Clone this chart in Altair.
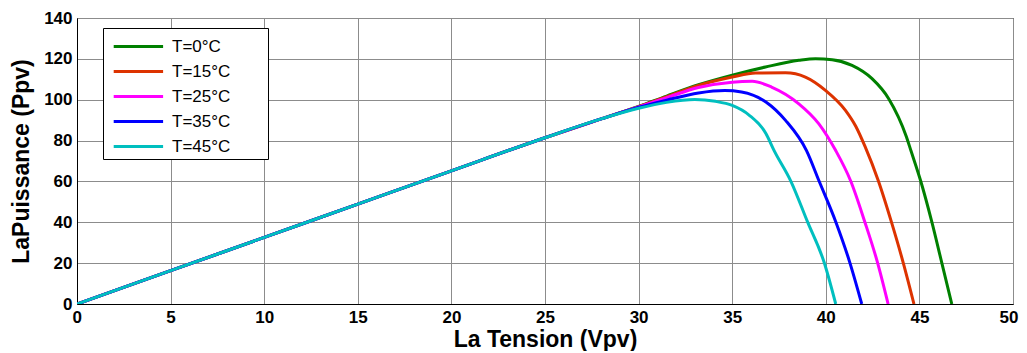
import altair as alt
import pandas as pd

series = ["T=0°C", "T=15°C", "T=25°C", "T=35°C", "T=45°C"]
colors = ["#008000", "#dd3300", "#ff00ff", "#0000ff", "#00bfbf"]

common_v = [0, 5, 10, 15, 20, 25, 28]
common_p = [0, 16.3, 32.6, 48.9, 65.2, 81.4, 90.6]

v_t0 = [30, 31.5, 33.2, 35, 36.78, 38.56, 39.45, 40.34, 41.4, 42.47, 43.36, 44.3, 44.55, 45.07, 45.66, 46.19, 46.73]
p_t0 = [96.7, 101.8, 107.3, 112, 116, 119.3, 120.1, 119.6, 116.8, 110.3, 100.5, 82, 75, 60.2, 40.3, 20.4, 0]

v_t15 = [30, 31.5, 33.2, 35, 36.25, 37.85, 38.91, 39.98, 41.05, 41.6, 42.1, 42.81, 43.5, 44.13, 44.71]
p_t15 = [96.6, 101.5, 107, 111.1, 113.1, 113.2, 111.1, 104.6, 94.8, 87, 77, 60.2, 40.3, 20.4, 0]

v_t25 = [30, 31.5, 33.2, 35, 36.07, 37.1, 38.56, 39.63, 40.53, 41.33, 42.08, 42.76, 43.33]
p_t25 = [96.5, 101, 106, 108.6, 109, 106.2, 98, 88.2, 75.1, 60.2, 40.3, 20.4, 0]

v_t35 = [30, 31.5, 33.2, 34.6, 35.5, 36.8, 37.85, 38.97, 39.64, 40.53, 41.28, 41.92]
p_t35 = [96.3, 99.8, 103.3, 104.5, 103.8, 98.9, 89.9, 75.1, 60.2, 40.3, 20.4, 0]

v_t45 = [30, 31.5, 33, 34.1, 35, 35.9, 36.8, 37.24, 38.13, 39.02, 39.91, 40.53]
p_t45 = [95.8, 98.7, 100.1, 99.2, 97.2, 92.5, 83.5, 75.1, 60.2, 40.3, 20.4, 0]

x_ticks = list(range(0, 51, 5))
y_ticks = list(range(0, 141, 20))

rows = []
for i, (name, vs, ps) in enumerate(zip(series,
                                       [v_t0, v_t15, v_t25, v_t35, v_t45],
                                       [p_t0, p_t15, p_t25, p_t35, p_t45])):
    for v, p in zip(common_v + vs, common_p + ps):
        rows.append({"serie": name, "ord": i, "V": v, "P": p})
df = pd.DataFrame(rows)

font = "Liberation Sans"

chart = alt.Chart(df).mark_line(strokeWidth=3, clip=True, interpolate="monotone").encode(
    x=alt.X("V:Q",
            scale=alt.Scale(domain=[0, 50], nice=False, zero=False),
            axis=alt.Axis(values=x_ticks, title="La Tension (Vpv)", format="d",
                          grid=True, gridColor="#8c8c8c", gridWidth=1,
                          domainColor="black", tickSize=0, labelPadding=5,
                          labelFont=font, labelFontSize=17, labelFontWeight="bold",
                          labelColor="black", titleFont=font, titleFontSize=23,
                          titleFontWeight="bold", titleColor="black", titlePadding=3,
                          labelFlush=True, labelFlushOffset=5)),
    y=alt.Y("P:Q",
            scale=alt.Scale(domain=[0, 140], nice=False, zero=False),
            axis=alt.Axis(values=y_ticks, title="LaPuissance (Ppv)", format="d",
                          grid=True, gridColor="#8c8c8c", gridWidth=1,
                          domainColor="black", tickSize=0, labelPadding=5,
                          labelFont=font, labelFontSize=17, labelFontWeight="bold",
                          labelColor="black", titleFont=font, titleFontSize=23,
                          titleFontWeight="bold", titleColor="black", titlePadding=10,
                          labelFlush=False)),
    color=alt.Color("serie:N",
                    scale=alt.Scale(domain=series, range=colors),
                    legend=alt.Legend(orient="none", legendX=26, legendY=10, title=None,
                                      fillColor="white", strokeColor="black",
                                      padding=4, symbolType="M-0.6,0H3.2", symbolSize=676,
                                      symbolStrokeWidth=3, labelFont=font,
                                      labelFontSize=17, labelColor="black",
                                      labelOffset=36, rowPadding=2,
                                      labelExpr="datum.label + '\u00a0\u00a0\u2800\u2800'")),
    order=alt.Order("ord:Q"),
).properties(
    width=936, height=286,
    autosize=alt.AutoSizeParams(type="none"),
    padding={"left": 69, "top": 10, "right": 6, "bottom": 47},
).configure_view(stroke="black", strokeWidth=1)

chart.save("out.html", embed_options={"renderer": "svg", "actions": False})
